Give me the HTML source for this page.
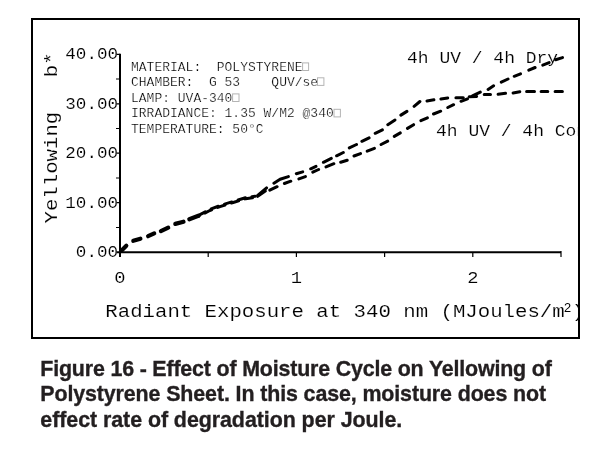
<!DOCTYPE html>
<html><head><meta charset="utf-8">
<style>
html,body{margin:0;padding:0;background:#fff;}
body{width:606px;height:452px;overflow:hidden;position:relative;}
svg{position:absolute;left:0;top:0;}
.m{font-family:"Liberation Mono","DejaVu Sans Mono",monospace;fill:#000;white-space:pre;stroke:#fff;stroke-width:0.15px;}
.s{stroke-width:0.25px;}
.cap{position:absolute;left:0;top:0;font-family:"Liberation Sans",Arial,sans-serif;font-weight:bold;font-size:21.4px;letter-spacing:-0.2px;color:#231f20;white-space:pre;line-height:25.4px;-webkit-text-stroke:0.35px #231f20;}
</style></head>
<body>
<svg width="606" height="452" viewBox="0 0 606 452">
<rect x="0" y="0" width="606" height="452" fill="#fff"/>
<!-- frame -->
<rect x="32" y="19" width="547" height="319" fill="none" stroke="#000" stroke-width="2"/>
<!-- axes -->
<g stroke="#000" fill="none">
<path d="M120 53.7 V257" stroke-width="2"/>
<path d="M116 252.2 H561" stroke-width="2"/>
<path d="M116 54.3 H120 M116 79 H120 M116 103.8 H120 M116 128.5 H120 M116 153.2 H120 M116 178 H120 M116 202.7 H120 M116 227.5 H120" stroke-width="1.2"/>
<path d="M208.2 252 V257 M296.4 252 V257 M384.6 252 V257 M472.8 252 V257 M561 251 V257" stroke-width="1.2"/>
</g>
<!-- y tick labels -->
<g class="m" font-size="18.8" text-anchor="end">
<text xml:space="preserve" transform="translate(118.1 59) scale(0.937 0.88)">40.00</text>
<text xml:space="preserve" transform="translate(118.1 108.5) scale(0.937 0.88)">30.00</text>
<text xml:space="preserve" transform="translate(118.1 158) scale(0.937 0.88)">20.00</text>
<text xml:space="preserve" transform="translate(118.1 207.5) scale(0.937 0.88)">10.00</text>
<text xml:space="preserve" transform="translate(118.1 257) scale(0.937 0.88)">0.00</text>
</g>
<!-- x tick labels -->
<g class="m" font-size="18.8" text-anchor="middle">
<text xml:space="preserve" transform="translate(120 283) scale(1 0.88)">0</text>
<text xml:space="preserve" transform="translate(296.4 283) scale(1 0.88)">1</text>
<text xml:space="preserve" transform="translate(472.8 283) scale(1 0.88)">2</text>
</g>
<!-- axis titles -->
<svg x="0" y="0" width="578" height="452" overflow="hidden">
<text xml:space="preserve" class="m" font-size="20.7" transform="translate(105.3 316.8) scale(1 0.87)">Radiant Exposure at 340 nm (MJoules/m</text>
<text xml:space="preserve" font-family="Liberation Sans, Arial, sans-serif" font-size="12.8" x="563.9" y="312" fill="#000">2</text>
<text xml:space="preserve" class="m" font-size="20.7" transform="translate(571.8 316.8) scale(1 0.87)">)</text>
</svg>
<text xml:space="preserve" class="m" font-size="20.7" transform="translate(57.4 223.5) rotate(-90) scale(1 0.87)">Yellowing</text>
<text xml:space="preserve" class="m" font-size="20.7" transform="translate(57.4 77.2) rotate(-90) scale(1 0.87)">b*</text>
<!-- info block -->
<g class="m s" font-size="13" xml:space="preserve">
<text xml:space="preserve" transform="translate(131 71) scale(1 0.93)">MATERIAL:  POLYSTYRENE</text>
<text xml:space="preserve" transform="translate(131 86.45) scale(1 0.93)">CHAMBER:  G 53    QUV/se</text>
<text xml:space="preserve" transform="translate(131 101.9) scale(1 0.93)">LAMP: UVA-340</text>
<text xml:space="preserve" transform="translate(131 117.4) scale(1 0.93)">IRRADIANCE: 1.35 W/M2 @340</text>
<text xml:space="preserve" transform="translate(131 132.9) scale(1 0.93)">TEMPERATURE: 50°C</text>
</g>
<g fill="none" stroke="#b4b4b4" stroke-width="1">
<rect x="302.6" y="62.9" width="6" height="7.6"/>
<rect x="317.5" y="77.8" width="6.4" height="7.6"/>
<rect x="232.6" y="93.9" width="6.4" height="7.6"/>
<rect x="334" y="109.3" width="6.4" height="7.6"/>
</g>
<!-- curve labels -->
<g class="m" font-size="18" xml:space="preserve">
<text xml:space="preserve" transform="translate(407 63.3) scale(1 0.9)">4h UV / 4h Dry</text>
</g>
<svg x="0" y="0" width="578" height="452" overflow="hidden">
<text class="m" font-size="18" transform="translate(436 136.4) scale(1 0.9)" xml:space="preserve">4h UV / 4h Con</text>
</svg>
<!-- curves -->
<g fill="none" stroke="#000" stroke-linecap="round" stroke-linejoin="round">
<path stroke-width="4.2" d="M121.6 250.4 L126.3 245.8 M133.3 240.8 L140.4 238.7 M148.1 236.2 L154.2 233.4 M160.9 231.1 L168.2 227.6 M175.3 223.9 L183.5 221.7 M189.3 219.3 L198.4 215.8"/>
<path stroke-width="3" stroke-dasharray="7.6 6.6" d="M198.5 215.3 L209.8 209.5 L220.0 205.6 L234.8 201.0 L245.7 197.7 L255.0 196.3"/>
<path stroke-width="3" stroke-dasharray="7.6 6.6" stroke-dashoffset="7.1" d="M198.5 216.3 L209.8 210.5 L220.0 206.6 L234.8 202.0 L245.7 198.7 L256.0 197.4"/>
<path stroke-width="3" d="M257.7 195.4 L266.6 187.9 M273.9 183.2 L280.1 179.2 L288.4 176.6 M296.3 173.7 L302.7 171.9 M310.7 168.8 L316.0 166.3 M323.4 162.3 L331.3 158.4 M336.6 155.8 L343.3 152.5 M349.3 147.9 L356.5 144.5 M361.9 141.3 L369.1 137.8 M375.2 133.3 L382.4 129.8 M387.8 124.7 L395.0 120.0 M400.9 115.1 L406.9 111.4 M414.1 106.4 L419.9 101.5 M427.0 100.9 L433.9 99.8 M440.9 99.1 L447.7 97.9 M455.9 97.7 L463.3 97.7 M469.2 96.7 L476.6 96.4 M484.2 94.6 L490.5 94.6 M498.1 94.3 L505.5 93.3 M513.1 92.9 L519.8 91.7 M526.6 91.5 L534.5 91.5 M541.1 91.5 L547.8 91.5 M555.1 91.5 L562.4 91.5"/>
<path stroke-width="3" d="M257.7 196.3 L265.3 191.1 M269.8 190.2 L277.1 186.7 M284.4 183.5 L290.8 181.2 M298.9 178.9 L305.4 176.6 M312.8 172.2 L318.6 169.5 M326.0 166.9 L333.9 163.7 M340.7 162.2 L347.2 160.2 M354.0 156.0 L360.5 153.6 M367.2 151.2 L374.4 148.4 M381.1 144.5 L387.7 141.1 M394.3 136.4 L400.3 132.9 M407.5 128.4 L413.6 124.7 M420.9 120.6 L427.4 117.8 M433.5 114.0 L440.7 111.2 M447.8 107.5 L453.6 104.7 M461.0 101.3 L467.5 98.8 M472.5 95.9 L480.3 92.1 M488.1 89.4 L493.6 85.8 M501.3 82.2 L508.0 79.0 M514.2 76.3 L520.5 73.8 M528.8 70.2 L535.1 67.5 M542.8 65.1 L549.1 62.6 M555.6 59.8 L562.5 57.6"/>
</g>
</svg>
<div class="cap" style="top:357px;left:40.3px;letter-spacing:-0.17px">Figure 16 - Effect of Moisture Cycle on Yellowing of</div>
<div class="cap" style="top:382.4px;left:40.3px;letter-spacing:-0.11px">Polystyrene Sheet. In this case, moisture does not</div>
<div class="cap" style="top:407.8px;left:40.3px;letter-spacing:-0.05px">effect rate of degradation per Joule.</div>
</body></html>
